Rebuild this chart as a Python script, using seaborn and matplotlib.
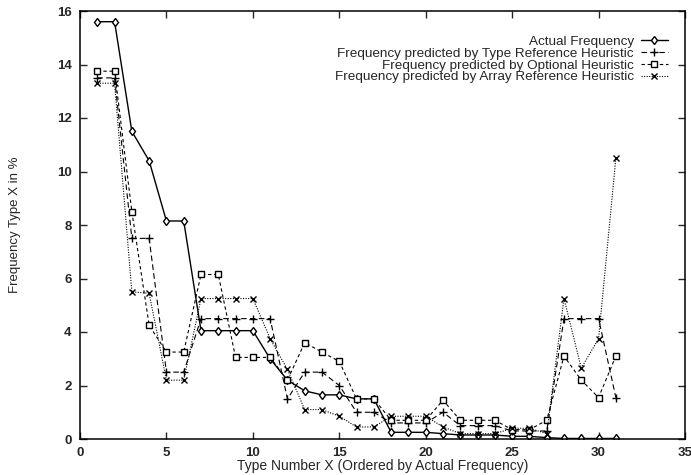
import matplotlib
matplotlib.use("Agg")
import matplotlib.pyplot as plt
import seaborn as sns

# type numbers 1..31, ordered by actual frequency
types = list(range(1, 32))

actual = [15.6, 15.6, 11.5, 10.4, 8.15, 8.15, 4.05, 4.05, 4.05, 4.05,
          3.0, 2.2, 1.8, 1.65, 1.65, 1.5, 1.5, 0.25, 0.25, 0.25,
          0.2, 0.15, 0.15, 0.15, 0.1, 0.1, 0.05, 0.02, 0.02, 0.02, 0.02]
type_ref = [13.5, 13.5, 7.5, 7.5, 2.5, 2.5, 4.5, 4.5, 4.5, 4.5,
            4.5, 1.5, 2.5, 2.5, 2.0, 1.0, 1.0, 0.6, 0.6, 0.6,
            1.0, 0.5, 0.5, 0.5, 0.3, 0.3, 0.3, 4.5, 4.5, 4.5, 1.55]
optional = [13.75, 13.75, 8.5, 4.25, 3.25, 3.25, 6.15, 6.15, 3.05, 3.05,
            3.05, 2.2, 3.6, 3.25, 2.9, 1.5, 1.5, 0.7, 0.7, 0.7,
            1.45, 0.7, 0.7, 0.7, 0.35, 0.35, 0.7, 3.1, 2.2, 1.55, 3.1]
array_ref = [13.3, 13.3, 5.5, 5.45, 2.2, 2.2, 5.25, 5.25, 5.25, 5.25,
             3.75, 2.6, 1.1, 1.1, 0.85, 0.45, 0.45, 0.85, 0.85, 0.85,
             0.45, 0.2, 0.2, 0.2, 0.4, 0.4, 0.2, 5.25, 2.65, 3.75, 10.5]

labels = ["Actual Frequency",
          "Frequency predicted by Type Reference Heuristic",
          "Frequency predicted by Optional Heuristic",
          "Frequency predicted by Array Reference Heuristic"]

sns.set_style("ticks")
plt.rcParams['font.family'] = ['Liberation Sans', 'DejaVu Sans']

fig = plt.figure(figsize=(6.91, 4.75), dpi=100)
ax = fig.add_axes([80 / 691, 36 / 475, 605 / 691, 428 / 475])

series = [actual, type_ref, optional, array_ref]
styles = [
    dict(linestyle="-", marker="d", markersize=4.5, linewidth=1.0,
         markerfacecolor="white"),
    dict(linestyle=(0, (5, 3)), marker="+", markersize=5.5, linewidth=0.8),
    dict(linestyle=(0, (3, 2.5)), marker="s", markersize=4.5, linewidth=0.8,
         markerfacecolor="white"),
    dict(linestyle=(0, (1, 1.3)), marker="x", markersize=4.5, linewidth=0.8),
]
for vals, lab, st in zip(series, labels, styles):
    sns.lineplot(x=types, y=vals, ax=ax, color="black", label=lab,
                 markeredgecolor="black", markeredgewidth=1.0, **st)

ax.set_xlim(0, 35)
ax.set_ylim(0, 16)
ax.set_xticks(range(0, 36, 5))
ax.set_yticks(range(0, 17, 2))
ax.tick_params(direction="in", top=True, right=True, labelsize=9.5,
               length=5, width=1, pad=6)
for lbl in ax.get_xticklabels() + ax.get_yticklabels():
    lbl.set_fontweight("bold")
for sp in ax.spines.values():
    sp.set_linewidth(1.1)
    sp.set_color("black")

ax.set_xlabel("Type Number X (Ordered by Actual Frequency)", fontsize=10,
              labelpad=0)
ax.set_ylabel("Frequency Type X in %", fontsize=9.5)
ax.yaxis.set_label_coords(-0.098, 0.5)

leg = ax.legend(loc="upper right", frameon=False, markerfirst=False,
                fontsize=9.7, handlelength=2.0, labelspacing=-0.05,
                bbox_to_anchor=(0.98, 0.955), borderaxespad=0,
                handletextpad=0.5)
for t in leg.get_texts():
    t.set_ha("right")
leg._legend_box.align = "right"

fig.savefig("out.png", dpi=100)
